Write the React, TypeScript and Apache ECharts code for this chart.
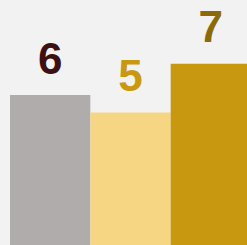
import React, { useEffect, useRef } from "react";
import * as echarts from "echarts";

const categories = ["A", "B", "C"];
const values = [6, 5.3, 7.25];
const labels = ["6", "5", "7"];
const barColors = ["#b0acab", "#f6d683", "#c99811"];
const labelColors = ["#3c1010", "#c99811", "#8c6a08"];

export default function App() {
  const ref = useRef<HTMLDivElement>(null);
  useEffect(() => {
    const chart = echarts.init(ref.current!, null, { renderer: "svg" });
    chart.setOption({
      animation: false,
      backgroundColor: "#f2f2f2",
      grid: { left: 10, right: -4, top: 0, bottom: 0, outerBoundsMode: "none" },
      xAxis: {
        type: "category",
        data: categories,
        show: false,
      },
      yAxis: { type: "value", min: 0, max: 9.8, show: false },
      series: [
        {
          type: "bar",
          barCategoryGap: 0,
          data: values.map((v, i) => ({
            value: v,
            itemStyle: { color: barColors[i] },
            label: {
              show: true,
              position: "top",
              distance: 15,
              formatter: labels[i],
              color: labelColors[i],
              fontFamily: "Liberation Sans",
              fontWeight: "bold",
              fontSize: 44,
            },
          })),
        },
      ],
    });
    return () => chart.dispose();
  }, []);
  return (
    <div
      ref={ref}
      style={{ position: "fixed", left: 0, top: 0, width: 247, height: 245 }}
    />
  );
}
